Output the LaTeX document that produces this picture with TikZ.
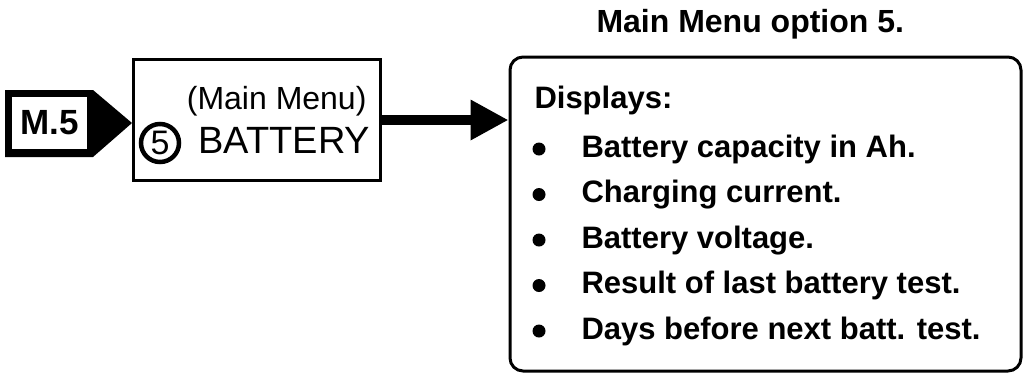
\documentclass[tikz,border=0pt]{standalone}
\usepackage{fontspec}
\setmainfont{Liberation Sans}
\usetikzlibrary{arrows.meta}
\begin{document}
\begin{tikzpicture}[x=1pt, y=-1pt, line width=3pt,
  itemtext/.style={anchor=base west, inner sep=0pt, font=\fontsize{31}{31}\selectfont\bfseries}]
  \useasboundingbox (0,0) rectangle (1029,376);
  \fill[black] (5,90) -- (93,90) -- (132,123) -- (93,157) -- (5,157) -- cycle;
  \node[fill=white, minimum width=75, minimum height=52, inner sep=0pt,
    font=\fontsize{35}{35}\selectfont\bfseries] (tag) at (49.5,123) {M.5};
  \node[draw, minimum width=247, minimum height=121, inner sep=0pt] (menu) at (256.5,120) {};
  \node[anchor=base east, inner sep=0pt, font=\fontsize{32}{32}\selectfont] (menutitle) at (368,109) {(Main Menu)};
  \node[circle, draw, line width=4.5pt, minimum size=38pt, inner sep=0pt,
    font=\fontsize{34}{34}\selectfont] (num) at (160,143) {5};
  \node[anchor=base west, inner sep=0pt, font=\fontsize{38}{38}\selectfont] (menuname) at (197,153) {BATTERY};
  \node[draw, rounded corners=13, minimum width=511, minimum height=314, inner sep=0pt] (disp) at (765.5,214) {};
  \node[anchor=base west, inner sep=0pt, font=\fontsize{32}{32}\selectfont\bfseries] (disptitle) at (595,32) {Main Menu option 5.};
  \draw[line width=10pt, -{Triangle[length=38pt, width=38pt]}] (menu.east) -- (menu.east -| disp.west);
  \node[itemtext] (disphead) at (533,108) {Displays:};
  \foreach \i/\t in {1/Battery capacity in Ah., 2/Charging current., 3/Battery voltage.,
    4/Result of last battery test., 5/Days before next batt. test.} {
    \fill (539,{149+45.5*(\i-1)}) circle (6.5);
    \node[itemtext] (item\i) at (580,{157+45.5*(\i-1)}) {\t};
  }
\end{tikzpicture}
\end{document}
